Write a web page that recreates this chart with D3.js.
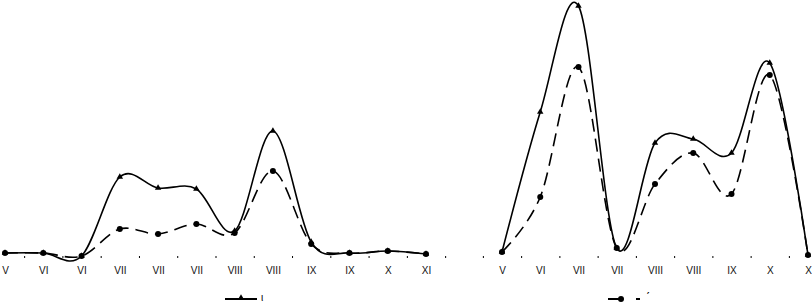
<!DOCTYPE html>
<html>
<head>
<meta charset="utf-8">
<script src="https://cdn.jsdelivr.net/npm/d3@7"></script>
<style>
  body { margin: 0; background: #fff; }
  text { font-family: "Liberation Sans Narrow", "Liberation Sans", Arial, sans-serif; }
</style>
</head>
<body>
<div id="chart"></div>
<script>
// data (arbitrary units, 0 = baseline)
const leftCats = ["V", "VI", "VI", "VII", "VII", "VII", "VIII", "VIII", "IX", "IX", "X", "XI"];
const leftTri = [1.2, 1.2, 0, 31.6, 27.2, 26.8, 10, 50, 5.6, 1.2, 2, 0.8];
const leftDot = [1.2, 1.2, 0, 10.8, 8.8, 12.8, 9.2, 34, 4.8, 1.2, 2, 0.8];

const rightCats = ["V", "VI", "VII", "VII", "VIII", "VIII", "IX", "X", "X"];
const rightTri = [1.6, 57.6, 100, 3.2, 45.2, 46.8, 41.2, 77.2, 0.4];
const rightDot = [1.6, 23.6, 75.6, 3.2, 28.8, 41.2, 24.8, 72.4, 0.4];

const width = 812, height = 304;
const font = "'Liberation Sans Narrow', 'Liberation Sans', Arial, sans-serif";

const svg = d3.select("#chart")
  .append("svg")
    .attr("width", width)
    .attr("height", height);

//shared y scale
const y = d3.scaleLinear().domain([0, 100]).range([256, 6]);

const line = xs => d3.line()
  .x((d, i) => xs(i))
  .y(d => y(d))
  .curve(d3.curveCardinal.tension(0));

function panel(cats, tri, dot, x0, x1, tickShift) {
  const n = cats.length;
  const x = d3.scaleLinear().domain([0, n - 1]).range([x0, x1]);
  const g = svg.append("g");

  // category labels
  g.append("g")
    .attr("transform", "translate(0,264)")
    .call(d3.axisBottom(x).tickValues(d3.range(n)).tickFormat(i => cats[i]).tickSize(0))
    .call(a => a.select(".domain").remove())
    .selectAll("text")
      .style("font-size", "10px")
      .style("font-family", font)
      .attr("fill", "#111");

  // small tick marks between categories
  g.append("g")
    .attr("transform", "translate(0,256)")
    .call(d3.axisBottom(x).tickValues(d3.range(n).map(i => i + tickShift)).tickFormat("").tickSize(2))
    .call(a => a.select(".domain").remove());

  g.append("path")
    .datum(tri)
    .attr("fill", "none")
    .attr("stroke", "#000")
    .attr("stroke-width", 1.6)
    .attr("d", line(x));

  g.append("path")
    .datum(dot)
    .attr("fill", "none")
    .attr("stroke", "#000")
    .attr("stroke-width", 1.6)
    .attr("stroke-dasharray", "13 7")
    .attr("d", line(x));

  g.selectAll(".tri")
    .data(tri)
    .join("path")
      .attr("class", "tri")
      .attr("transform", (d, i) => `translate(${x(i)},${y(d)})`)
      .attr("d", d3.symbol(d3.symbolTriangle, 18))
      .attr("fill", "#000");

  g.selectAll(".dot")
    .data(dot)
    .join("circle")
      .attr("class", "dot")
      .attr("cx", (d, i) => x(i))
      .attr("cy", d => y(d))
      .attr("r", 3)
      .attr("fill", "#000");
}

panel(leftCats, leftTri, leftDot, 5, 426, 0.5);
panel(rightCats, rightTri, rightDot, 502, 808, -0.5);

// legends
const leg1 = svg.append("g");
leg1.append("line")
  .attr("x1", 225).attr("x2", 257).attr("y1", 299).attr("y2", 299)
  .attr("stroke", "#000").attr("stroke-width", 2);
leg1.append("path")
  .attr("transform", "translate(241,298)")
  .attr("d", d3.symbol(d3.symbolTriangle, 18))
  .attr("fill", "#000");
leg1.append("text")
  .attr("x", 261).attr("y", 301)
  .style("font-size", "10px")
  .text("ι");

const leg2 = svg.append("g");
leg2.append("line")
  .attr("x1", 608).attr("x2", 623).attr("y1", 299).attr("y2", 299)
  .attr("stroke", "#000").attr("stroke-width", 2);
leg2.append("line")
  .attr("x1", 636).attr("x2", 640).attr("y1", 299).attr("y2", 299)
  .attr("stroke", "#000").attr("stroke-width", 2);
leg2.append("circle")
  .attr("cx", 621).attr("cy", 299).attr("r", 3)
  .attr("fill", "#000");
leg2.append("text")
  .attr("x", 646).attr("y", 302)
  .style("font-size", "12px")
  .text("ˊ");
</script>
</body>
</html>
